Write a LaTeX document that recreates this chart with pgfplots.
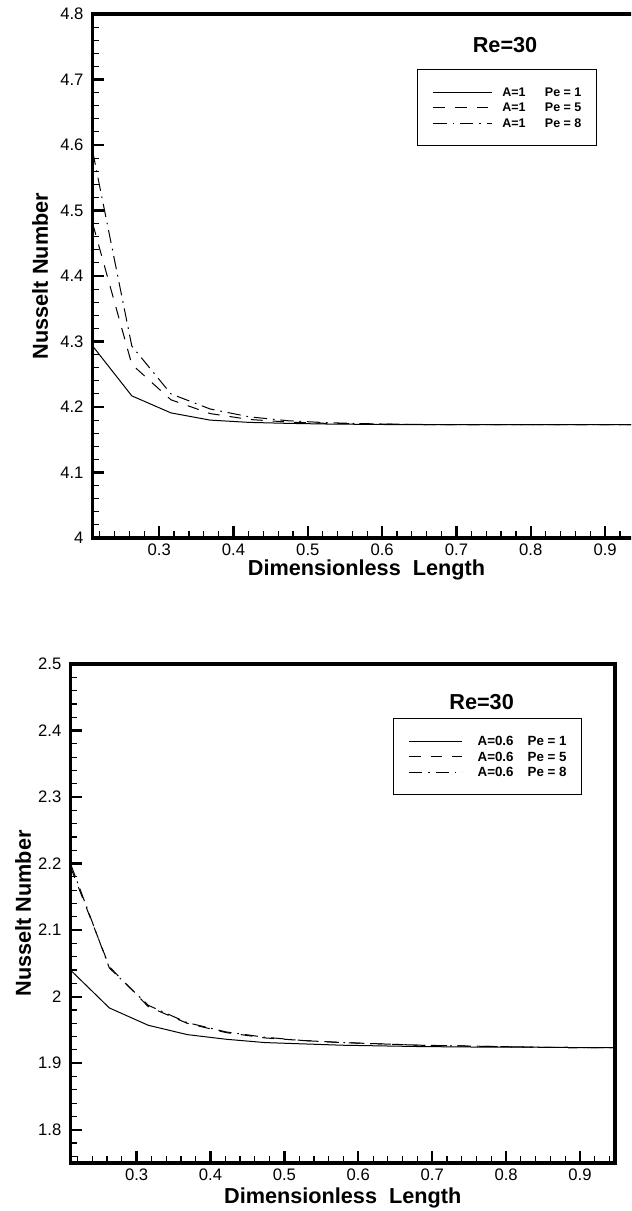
\documentclass[border=0pt]{standalone}
\usepackage{fontspec}
\setmainfont{Liberation Sans}
\usepackage{pgfplots}
\usepackage{pgfplotstable}
\pgfplotsset{compat=1.18}

\pgfplotstableread{
x s d dd
0.210526 4.293 4.480 4.590
0.263158 4.217 4.265 4.293
0.315789 4.191 4.211 4.220
0.368421 4.180 4.190 4.197
0.421053 4.1765 4.181 4.185
0.473684 4.175 4.177 4.179
0.526316 4.174 4.175 4.176
0.578947 4.1735 4.174 4.1745
0.631579 4.173 4.1735 4.1735
0.684211 4.173 4.173 4.173
0.736842 4.173 4.173 4.173
0.789474 4.173 4.173 4.173
0.842105 4.173 4.173 4.173
0.894737 4.173 4.173 4.173
0.947368 4.173 4.173 4.173
}\topdata

\pgfplotstableread{
x s d dd
0.210526 2.040 2.195 2.200
0.263158 1.983 2.045 2.043
0.315789 1.957 1.985 1.987
0.368421 1.943 1.960 1.961
0.421053 1.936 1.946 1.947
0.473684 1.931 1.938 1.939
0.526316 1.929 1.934 1.934
0.578947 1.927 1.931 1.931
0.631579 1.926 1.929 1.929
0.684211 1.925 1.927 1.927
0.736842 1.9245 1.926 1.926
0.789474 1.924 1.925 1.925
0.842105 1.924 1.924 1.924
0.894737 1.9235 1.9235 1.9235
0.947368 1.9235 1.9235 1.9235
}\botdata

\pgfplotsset{
  nuplot/.style={
    scale only axis,
    xmin=0.210526, xmax=0.947368,
    axis line style={line width=2pt},
    tick align=inside,
    xtick pos=left, ytick pos=left,
    xtick={0.3,0.4,0.5,0.6,0.7,0.8,0.9},
    minor xtick={0.22,0.24,0.26,0.28,0.32,0.34,0.36,0.38,0.42,0.44,0.46,0.48,0.52,0.54,0.56,0.58,0.62,0.64,0.66,0.68,0.72,0.74,0.76,0.78,0.82,0.84,0.86,0.88,0.92,0.94},
    major tick length=7pt, minor tick length=4pt,
    major tick style={line width=1.4pt, black},
    minor tick style={line width=0.7pt, black},
    tick label style={font=\fontsize{10}{12}\selectfont},
    yticklabel style={xshift=-2pt},
    /pgf/number format/assume math mode=true,
    label style={font=\bfseries\fontsize{13}{15}\selectfont},
    xlabel={Dimensionless\ \ Length},
    ylabel={Nusselt Number},
    legend cell align=left,
    legend style={draw=black, line width=0.6pt, inner xsep=9pt, inner ysep=11pt,
      row sep=4.3pt, anchor=north west,
      nodes={inner sep=0pt, text height=5pt, text depth=0pt}},
  },
  solidl/.style={black, line width=0.6pt},
  dashl/.style={black, line width=0.6pt, dash pattern=on 7pt off 6pt},
  dashdotl/.style={black, line width=0.6pt, dash pattern=on 8pt off 3.5pt on 1pt off 3.5pt},
}

\begin{document}
\begin{tikzpicture}
\useasboundingbox (0,0) rectangle (378.6pt,726.6pt);
\clip (0,0) rectangle (378.6pt,726.6pt);

\begin{axis}[nuplot,
  at={(55.62pt,403.8pt)}, anchor=south west,
  width=328.56pt, height=314.4pt,
  ymin=4, ymax=4.8,
  ytick={4,4.1,4.2,4.3,4.4,4.5,4.6,4.7,4.8},
  minor y tick num=4,
  xlabel style={at={(axis description cs:0.5,-0.061)}, anchor=center},
  ylabel style={at={(axis description cs:-0.0962,0.5)}, anchor=center},
  legend image code/.code={\draw[#1] (0pt,0pt) -- (35pt,0pt);},
  legend style={at={(0.593,0.895)}, column sep=6pt,
    font=\bfseries\fontsize{7.5}{8}\selectfont},
]
\addplot[solidl] table[x=x,y=s] {\topdata};
\addlegendentry{\makebox[25.6pt][l]{A=1}Pe = 1}
\addplot[dashl] table[x=x,y=d] {\topdata};
\addlegendentry{\makebox[25.6pt][l]{A=1}Pe = 5}
\addplot[dashdotl] table[x=x,y=dd] {\topdata};
\addlegendentry{\makebox[25.6pt][l]{A=1}Pe = 8}
\node[font=\bfseries\fontsize{13}{15}\selectfont] at (rel axis cs:0.753,0.941) {Re=30};
\end{axis}

\begin{axis}[nuplot,
  at={(42.3pt,28.8pt)}, anchor=south west,
  width=326.7pt, height=299.4pt,
  ymin=1.75, ymax=2.5,
  ytick={1.8,1.9,2,2.1,2.2,2.3,2.4,2.5},
  minor ytick={1.76,1.78,1.82,1.84,1.86,1.88,1.92,1.94,1.96,1.98,2.02,2.04,2.06,2.08,2.12,2.14,2.16,2.18,2.22,2.24,2.26,2.28,2.32,2.34,2.36,2.38,2.42,2.44,2.46,2.48},
  xlabel style={at={(axis description cs:0.5,-0.070)}, anchor=center},
  ylabel style={at={(axis description cs:-0.087,0.5)}, anchor=center},
  legend image code/.code={\draw[#1] (0pt,0pt) -- (32pt,0pt);},
  legend style={at={(0.592,0.891)}, column sep=9pt,
    font=\bfseries\fontsize{8}{9}\selectfont},
]
\addplot[solidl] table[x=x,y=s] {\botdata};
\addlegendentry{\makebox[30pt][l]{A=0.6}Pe = 1}
\addplot[dashl] table[x=x,y=d] {\botdata};
\addlegendentry{\makebox[30pt][l]{A=0.6}Pe = 5}
\addplot[dashdotl] table[x=x,y=dd] {\botdata};
\addlegendentry{\makebox[30pt][l]{A=0.6}Pe = 8}
\node[font=\bfseries\fontsize{13}{15}\selectfont] at (rel axis cs:0.755,0.924) {Re=30};
\end{axis}
\end{tikzpicture}
\end{document}
